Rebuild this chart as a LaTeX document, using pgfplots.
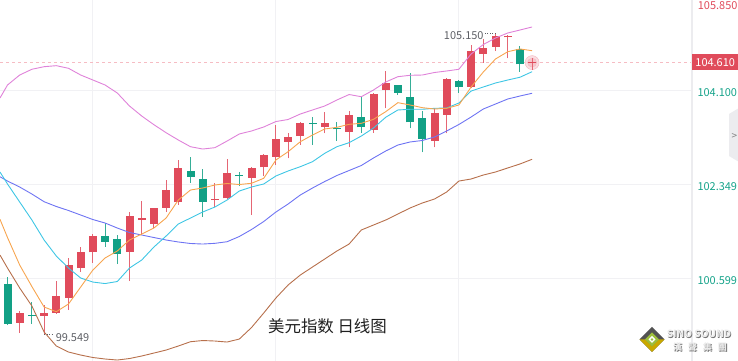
\documentclass[border=0pt]{standalone}
\usepackage{fontspec}
\setmainfont{Noto Sans CJK SC}
\usepackage{pgfplots}
\pgfplotsset{compat=1.18}
\usepackage{pgfplotstable}

\definecolor{cred}{HTML}{E04B5B}
\definecolor{cgreen}{HTML}{12A085}
\definecolor{cpink}{HTML}{DF82D9}
\definecolor{corange}{HTML}{F7A54F}
\definecolor{ccyan}{HTML}{3EC6E4}
\definecolor{cblue}{HTML}{6E74F3}
\definecolor{cbrown}{HTML}{B7704C}
\definecolor{cgrid}{HTML}{F1F1F4}
\definecolor{clabgreen}{HTML}{16A38A}
\definecolor{cdash}{HTML}{F6BCC3}
\definecolor{clabel}{HTML}{5E6066}
\definecolor{csep}{HTML}{ECECEF}
\definecolor{cgold}{HTML}{C9A800}
\definecolor{colive}{HTML}{9DBE3C}
\definecolor{cglow}{HTML}{F3B6BE}

% red (rising) candles: index open high low close
\pgfplotstableread{
x O H L C
2 99.767 99.990 99.575 99.953
4 99.897 100.096 99.549 99.947
5 99.953 100.543 99.930 100.264
6 100.232 100.972 100.003 100.841
7 100.785 101.182 100.716 101.089
8 101.078 101.413 100.884 101.387
11 101.089 101.834 100.543 101.759
12 101.679 102.039 101.400 101.711
13 101.605 101.905 101.525 101.897
14 101.908 102.424 101.834 102.238
15 102.009 102.797 101.959 102.653
18 102.050 102.374 101.916 102.075
19 102.083 102.810 102.065 102.549
21 102.467 102.672 101.772 102.653
22 102.661 102.908 102.498 102.890
23 102.858 103.448 102.703 103.182
24 103.137 103.294 102.828 103.230
25 103.243 103.510 103.076 103.480
27 103.417 103.696 103.294 103.480
29 103.324 103.715 103.033 103.635
31 103.355 104.050 103.305 104.020
32 104.100 104.454 103.759 104.225
36 103.150 103.759 103.033 103.666
37 103.635 104.318 103.294 104.299
39 104.165 104.938 104.132 104.826
40 104.770 105.050 104.612 104.877
41 104.906 105.150 104.826 105.106
42 105.082 105.115 104.690 105.106
44 104.600 104.690 104.472 104.620
}\redtab

% green (falling) candles: index open high low close
\pgfplotstableread{
x O H L C
1 100.487 100.618 99.720 99.743
3 99.915 100.158 99.743 99.890
9 101.387 101.618 101.182 101.275
10 101.320 101.400 100.860 101.040
16 102.597 102.847 102.374 102.486
17 102.443 102.623 101.741 102.020
20 102.520 102.579 102.312 102.495
26 103.491 103.592 103.076 103.467
28 103.390 103.499 103.156 103.365
30 103.592 103.975 103.305 103.402
33 104.193 104.200 104.007 104.050
34 103.964 104.411 103.387 103.499
35 103.573 103.709 102.940 103.188
38 104.268 104.286 104.050 104.150
43 104.864 104.919 104.441 104.579
}\greentab

\begin{document}
\begin{tikzpicture}
\begin{axis}[
  name=ax,
  scale only axis, width=692bp, height=361bp,
  xmin=0.385, xmax=57.107, ymin=99.054, ymax=105.776,
  axis line style={draw=none},
  major tick length=0pt,
  xtick={8,23,38}, xticklabels={},
  ytick={100.599,102.349,104.1},
  yticklabels={100.599,102.349,104.100},
  yticklabel pos=right,
  yticklabel style={text=clabgreen, anchor=west, xshift=2bp, yshift=-2.5bp,
    font=\fontsize{11}{13}\selectfont},
  xmajorgrids, ymajorgrids,
  grid style={cgrid, line width=1bp},
  clip mode=individual,
  candle/.style={draw=none, mark=none, forget plot,
    error bars/.cd, y dir=plus, y explicit, error mark=none},
]
% current price dashed line
\draw[cdash, line width=1bp, dash pattern=on 3bp off 3bp]
  (axis cs:0.385,104.61) -- (axis cs:57.107,104.61);

% glow on last price (under the candle)
\addplot[cglow, only marks, mark=*, mark size=7bp, mark options={draw=none, fill=cglow, fill opacity=0.45}] coordinates {(44,104.61)};
\addplot[cglow, only marks, mark=*, mark size=4.5bp, mark options={draw=none, fill=cglow, fill opacity=0.6}] coordinates {(44,104.61)};

% wicks
\addplot[candle, error bar style={draw=cred!85!white, line width=1bp}]
  table[x=x, y=L, y error expr=\thisrow{H}-\thisrow{L}] {\redtab};
\addplot[candle, error bar style={draw=cgreen!85!white, line width=1bp}]
  table[x=x, y=L, y error expr=\thisrow{H}-\thisrow{L}] {\greentab};
% bodies
\addplot[candle, error bar style={draw=cred, line width=8bp}]
  table[x=x, y=O, y error expr=\thisrow{C}-\thisrow{O}] {\redtab};
\addplot[candle, error bar style={draw=cgreen, line width=8bp}]
  table[x=x, y=C, y error expr=\thisrow{O}-\thisrow{C}] {\greentab};

% lower band
\addplot[cbrown, line width=0.9bp, mark=none] coordinates {
(0.385,101.027) (1,100.785) (2,100.413) (3,100.078) (4,99.594) (5,99.333) (6,99.221) (7,99.165) (8,99.119) (9,99.091) (10,99.072) (11,99.100) (12,99.147) (13,99.202) (14,99.258) (15,99.333) (16,99.413) (17,99.435) (18,99.426) (19,99.407) (20,99.463) (21,99.677) (22,99.947) (23,100.227) (24,100.469) (25,100.655) (26,100.804) (27,100.953) (28,101.102) (29,101.232) (30,101.493) (31,101.586) (32,101.679) (33,101.791) (34,101.903) (35,101.996) (36,102.070) (37,102.201) (38,102.405) (39,102.443) (40,102.517) (41,102.573) (42,102.648) (43,102.722) (44,102.810)};
% middle band
\addplot[cblue, line width=0.9bp, mark=none] coordinates {
(0.385,102.485) (1,102.405) (2,102.293) (3,102.163) (4,102.020) (5,101.931) (6,101.856) (7,101.772) (8,101.688) (9,101.623) (10,101.530) (11,101.446) (12,101.400) (13,101.353) (14,101.307) (15,101.270) (16,101.242) (17,101.232) (18,101.245) (19,101.275) (20,101.372) (21,101.502) (22,101.651) (23,101.828) (24,101.977) (25,102.145) (26,102.275) (27,102.396) (28,102.508) (29,102.601) (30,102.694) (31,102.834) (32,102.964) (33,103.076) (34,103.132) (35,103.160) (36,103.225) (37,103.337) (38,103.458) (39,103.597) (40,103.746) (41,103.839) (42,103.932) (43,103.988) (44,104.039)};
% upper band
\addplot[cpink, line width=0.9bp, mark=none] coordinates {
(0.385,103.951) (1,104.193) (2,104.379) (3,104.486) (4,104.534) (5,104.553) (6,104.504) (7,104.379) (8,104.286) (9,104.193) (10,104.044) (11,103.802) (12,103.616) (13,103.454) (14,103.305) (15,103.169) (16,103.044) (17,103.001) (18,103.026) (19,103.150) (20,103.281) (21,103.337) (22,103.411) (23,103.513) (24,103.551) (25,103.653) (26,103.728) (27,103.802) (28,103.914) (29,104.016) (30,103.975) (31,104.100) (32,104.249) (33,104.348) (34,104.374) (35,104.379) (36,104.426) (37,104.454) (38,104.486) (39,104.770) (40,104.947) (41,105.068) (42,105.161) (43,105.217) (44,105.273)};
% MA10
\addplot[ccyan, line width=0.9bp, mark=none] coordinates {
(0.385,102.573) (1,102.350) (2,102.014) (3,101.679) (4,101.307) (5,101.009) (6,100.785) (7,100.599) (8,100.524) (9,100.496) (10,100.534) (11,100.785) (12,100.934) (13,101.176) (14,101.381) (15,101.605) (16,101.716) (17,101.828) (18,101.921) (19,102.052) (20,102.219) (21,102.294) (22,102.350) (23,102.499) (24,102.592) (25,102.672) (26,102.765) (27,102.921) (28,103.044) (29,103.119) (30,103.243) (31,103.392) (32,103.592) (33,103.728) (34,103.741) (35,103.741) (36,103.759) (37,103.765) (38,103.858) (39,104.081) (40,104.156) (41,104.230) (42,104.286) (43,104.337) (44,104.441)};
% MA5
\addplot[corange, line width=0.9bp, mark=none] coordinates {
(0.385,101.692) (1,101.353) (2,100.841) (3,100.440) (4,100.059) (5,99.972) (6,100.115) (7,100.432) (8,100.749) (9,100.972) (10,101.102) (11,101.307) (12,101.418) (13,101.530) (14,101.716) (15,102.051) (16,102.238) (17,102.275) (18,102.331) (19,102.359) (20,102.340) (21,102.363) (22,102.456) (23,102.797) (24,102.951) (25,103.137) (26,103.262) (27,103.374) (28,103.405) (29,103.461) (30,103.480) (31,103.554) (32,103.696) (33,103.864) (34,103.821) (35,103.771) (36,103.746) (37,103.759) (38,103.821) (39,104.156) (40,104.435) (41,104.677) (42,104.813) (43,104.864) (44,104.832)};

% high / low annotations
\draw[clabel, line width=0.8bp, dash pattern=on 1bp off 1.5bp]
  (axis cs:41,105.15) -- (axis cs:40.05,105.15)
  node[anchor=east, inner sep=0pt, yshift=-1.5bp, text=clabel, font=\fontsize{11}{13}\selectfont] {105.150};
\draw[clabel, line width=0.8bp, dash pattern=on 1bp off 1.5bp]
  (axis cs:4,99.549) -- (axis cs:4.8,99.549)
  node[anchor=west, inner sep=0pt, xshift=1.5bp, yshift=-3bp, text=clabel, font=\fontsize{11}{13}\selectfont] {99.549};
\end{axis}

\begin{scope}[shift={(ax.north west)}, x=1bp, y=-1bp]
  % separator of the price scale
  \draw[csep, line width=1.2bp] (692,0) -- (692,361);
  % top price label
  \node[anchor=west, inner sep=0pt, text=cred, font=\fontsize{11}{13}\selectfont] at (697.7,5.5) {105.850};
  % current price box
  \node[anchor=west, fill=cred, text=white, inner sep=0pt, minimum width=46bp, minimum height=15.7bp,
        font=\fontsize{11}{13}\selectfont] at (692,62.2) {104.610};
  % side button
  \fill[csep] (739,108) -- (729,114) -- (729,156) -- (739,162) -- cycle;
  \node[text=gray, inner sep=0pt, font=\fontsize{10}{12}\selectfont] at (734.5,136.5) {>};
  % title
  \node[text=black!88, inner sep=0pt, font=\fontsize{16.5}{19}\selectfont] at (327.5,326.5) {美元指数 日线图};
  % logo
  \fill[black!68] (652,327) -- (664.5,339.5) -- (652,352) -- (639.5,339.5) -- cycle;
  \fill[cgold] (639.5,339.5) -- (652,352) -- (664.5,339.5) -- (659,339.5) -- (652,346.5) -- (645,339.5) -- cycle;
  \fill[colive] (652,332.5) -- (659,339.5) -- (652,346.5) -- (645,339.5) -- cycle;
  \fill[white] (652,336) -- (655.5,339.5) -- (652,343) -- (648.5,339.5) -- cycle;
  \fill[colive] (652,338.2) -- (653.3,339.5) -- (652,340.8) -- (650.7,339.5) -- cycle;
  \node[text=black!55, inner sep=0pt, font=\bfseries\fontsize{10}{12}\selectfont] at (699.8,334.8) {SINO SOUND};
  \node[text=black!8, inner sep=0pt, font=\bfseries\fontsize{10}{12}\selectfont] at (699,334) {SINO SOUND};
  \node[text=black!55, inner sep=0pt, font=\bfseries\fontsize{9}{11}\selectfont] at (700.8,347.8) {漢\hspace{6bp}聲\hspace{6bp}集\hspace{6bp}團};
  \node[text=black!8, inner sep=0pt, font=\bfseries\fontsize{9}{11}\selectfont] at (700,347) {漢\hspace{6bp}聲\hspace{6bp}集\hspace{6bp}團};
\end{scope}

\pgfresetboundingbox
\path (ax.south west) rectangle ([xshift=46bp]ax.north east);
\end{tikzpicture}
\end{document}
